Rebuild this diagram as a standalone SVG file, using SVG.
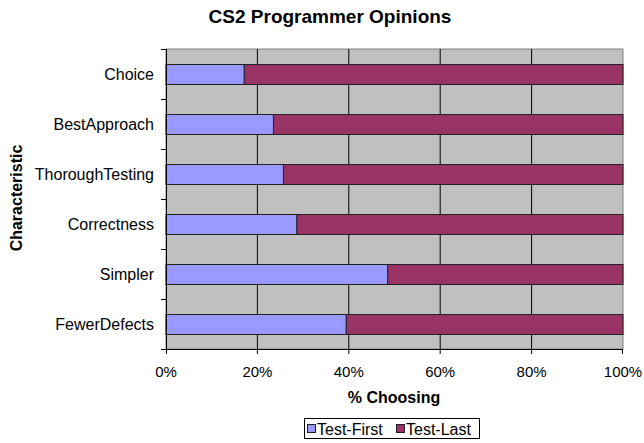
<svg xmlns="http://www.w3.org/2000/svg" width="644" height="443" viewBox="0 0 644 443">
<style>
text{font-family:"Liberation Sans",Arial,sans-serif;fill:#000}
.title{font-size:19px;font-weight:bold}
.axt{font-size:16px;font-weight:bold}
.cat{font-size:16px;text-anchor:end}
.tick{font-size:15px;text-anchor:middle}
.leg{font-size:16px}
.first{fill:#9999FF;stroke:#222;stroke-width:1}
.last{fill:#993366;stroke:#222;stroke-width:1}
.grid{stroke:#000;stroke-width:1}
.ax{stroke:#000;stroke-width:1;fill:none}
</style>
<rect width="644" height="443" fill="#fff"/>
<text class="title" x="330" y="23" text-anchor="middle">CS2 Programmer Opinions</text>
<g id="plot">
<rect x="166" y="49" width="457" height="300" fill="#C0C0C0" stroke="#808080" stroke-width="1"/>
<g id="gridlines">
<line class="grid" x1="257.4" y1="49" x2="257.4" y2="349"/>
<line class="grid" x1="348.8" y1="49" x2="348.8" y2="349"/>
<line class="grid" x1="440.2" y1="49" x2="440.2" y2="349"/>
<line class="grid" x1="531.6" y1="49" x2="531.6" y2="349"/>
</g>
</g>
<g id="bar-choice">
<rect class="last" x="244.1" y="64.5" width="378.9" height="20"/>
<rect class="first" x="166" y="64.5" width="78.1" height="20"/>
<text class="cat" x="154" y="80">Choice</text>
</g>
<g id="bar-bestapproach">
<rect class="last" x="273.4" y="114.5" width="349.6" height="20"/>
<rect class="first" x="166" y="114.5" width="107.4" height="20"/>
<text class="cat" x="154" y="130">BestApproach</text>
</g>
<g id="bar-thoroughtesting">
<rect class="last" x="283.4" y="164.5" width="339.6" height="20"/>
<rect class="first" x="166" y="164.5" width="117.4" height="20"/>
<text class="cat" x="154" y="180">ThoroughTesting</text>
</g>
<g id="bar-correctness">
<rect class="last" x="296.7" y="214.5" width="326.3" height="20"/>
<rect class="first" x="166" y="214.5" width="130.7" height="20"/>
<text class="cat" x="154" y="230">Correctness</text>
</g>
<g id="bar-simpler">
<rect class="last" x="387.6" y="264.5" width="235.4" height="20"/>
<rect class="first" x="166" y="264.5" width="221.6" height="20"/>
<text class="cat" x="154" y="280">Simpler</text>
</g>
<g id="bar-fewerdefects">
<rect class="last" x="346.1" y="314.5" width="276.9" height="20"/>
<rect class="first" x="166" y="314.5" width="180.1" height="20"/>
<text class="cat" x="154" y="330">FewerDefects</text>
</g>
<g id="axes">
<path class="ax" d="M166.5 49V349.5H623"/>
<path class="ax" d="M161 49.5H166M161 99.5H166M161 149.5H166M161 199.5H166M161 249.5H166M161 299.5H166M161 349.5H166"/>
<path class="ax" d="M166.5 349V354M257.4 349V354M348.8 349V354M440.2 349V354M531.6 349V354M622.5 349V354"/>
</g>
<g id="xlabels">
<text class="tick" x="166" y="377">0%</text>
<text class="tick" x="257.4" y="377">20%</text>
<text class="tick" x="348.8" y="377">40%</text>
<text class="tick" x="440.2" y="377">60%</text>
<text class="tick" x="531.6" y="377">80%</text>
<text class="tick" x="623" y="377">100%</text>
</g>
<text class="axt" x="394" y="403" text-anchor="middle">% Choosing</text>
<text class="axt" transform="translate(22 198) rotate(-90)" text-anchor="middle">Characteristic</text>
<g id="legend">
<rect x="304.5" y="418.5" width="175" height="20" fill="#fff" stroke="#000" stroke-width="1"/>
<rect class="first" x="307.5" y="424.5" width="8" height="8"/>
<text class="leg" x="317" y="434.5">Test-First</text>
<rect class="last" x="396.5" y="424.5" width="8" height="8"/>
<text class="leg" x="406" y="434.5">Test-Last</text>
</g>
</svg>
